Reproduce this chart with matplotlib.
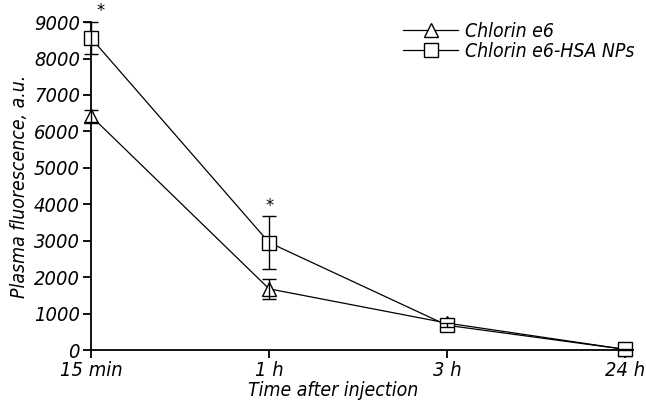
import matplotlib

matplotlib.use("Agg")
import matplotlib.pyplot as plt
from matplotlib import font_manager
from matplotlib.lines import Line2D

times = ["15 min", "1 h", "3 h", "24 h"]
ce6 = [6420, 1680, 740, 20]
ce6_err = [160, 280, 60, 20]
ce6_hsa = [8560, 2950, 680, 20]
ce6_hsa_err = [450, 720, 60, 20]
stars = [0, 1]

# look for a condensed italic face; fall back to Liberation Sans
narrow = None
for f in font_manager.fontManager.ttflist:
    tag = (f.name + " " + str(f.stretch) + " " + f.fname).lower()
    if ("narrow" in tag or "condensed" in tag) and f.style in ("italic", "oblique"):
        narrow = f
        break
fams = [narrow.name] if narrow else ["Liberation Sans"]
plt.rcParams["font.family"] = fams + ["DejaVu Sans"]
plt.rcParams["font.style"] = "italic"
if narrow:
    plt.rcParams["font.stretch"] = narrow.stretch
scale = 0.9 if narrow else 0.8

fig = plt.figure(figsize=(6.46, 4.01), dpi=100)
ax = fig.add_axes([0.141, 0.127, 0.839, 0.818])

x = list(range(len(times)))
common = dict(color="black", linewidth=0.9, markersize=10, markerfacecolor="white",
              markeredgewidth=1.0, capsize=5, elinewidth=1.0, capthick=1.0)
for values, errors, marker in ((ce6, ce6_err, "^"), (ce6_hsa, ce6_hsa_err, "s")):
    line, caps, bars = ax.errorbar(x, values, yerr=errors, marker=marker, **common)
    for artist in (line, *caps, *bars):
        artist.set_clip_on(False)
        artist.set_zorder(3)

for i in stars:
    ax.annotate("*", (x[i], ce6_hsa[i] + ce6_hsa_err[i]), xytext=(4 if i == 0 else 0, 1),
                textcoords="offset points", ha="left" if i == 0 else "center",
                va="bottom", fontsize=13)

ax.set_xlim(0, 3.045)
ax.set_ylim(0, 9000)
ax.set_yticks(range(0, 9001, 1000))
ax.set_xticks(x, times)
ax.tick_params(axis="both", labelsize=16 * scale, length=6, width=1.3, direction="out")
ax.tick_params(axis="x", pad=2)
ax.tick_params(axis="y", pad=2)
for side in ("top", "right"):
    ax.spines[side].set_visible(False)
for side in ("left", "bottom"):
    ax.spines[side].set_linewidth(1.3)
ax.set_ylabel("Plasma fluorescence, a.u.", fontsize=15.5 * scale)
ax.yaxis.set_label_coords(-0.115, 0.5)
ax.set_xlabel("Time after injection", fontsize=15.5 * scale, va="bottom")
ax.xaxis.set_label_coords(0.447, -0.152)

handles = [
    Line2D([], [], color="black", linewidth=0.9, marker="^", markersize=10,
           markerfacecolor="white"),
    Line2D([], [], color="black", linewidth=0.9, marker="s", markersize=10,
           markerfacecolor="white"),
]
ax.legend(handles, ["Chlorin e6", "Chlorin e6-HSA NPs"], loc="upper left",
          bbox_to_anchor=(0.576, 1.0), frameon=False, fontsize=15.5 * scale,
          handlelength=2.85, handletextpad=0.35, labelspacing=0.05, borderpad=0.0,
          borderaxespad=0.0)

fig.savefig("out.png", dpi=100)
